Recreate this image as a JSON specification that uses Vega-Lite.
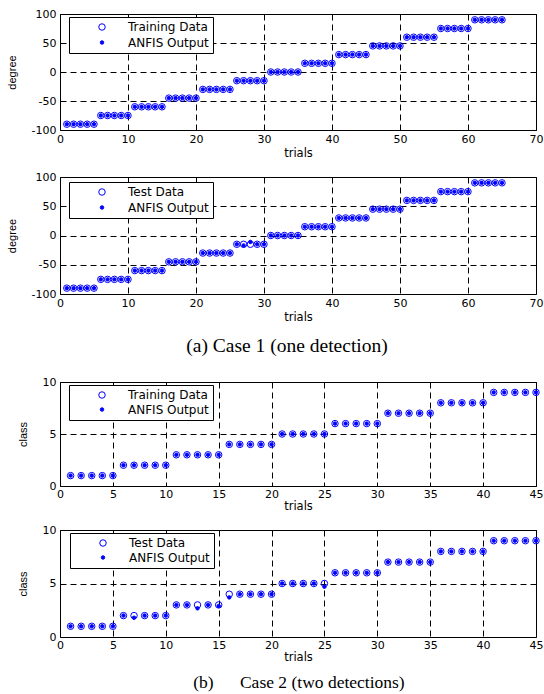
{
  "$schema": "https://vega.github.io/schema/vega-lite/v6.json",
  "background": "white",
  "padding": {"left": 5, "top": 7, "right": 0, "bottom": 4},
  "spacing": 11,
  "config": {
    "view": {"stroke": "black", "strokeWidth": 1},
    "axis": {"domain": false, "ticks": false, "grid": true, "gridColor": "black", "gridDash": [6, 4], "gridWidth": 1, "gridOpacity": 1, "labelFont": "DejaVu Sans", "labelFontSize": 11, "labelColor": "black", "titleColor": "black", "titleFontWeight": "normal"},
    "axisX": {"labelPadding": 3, "titlePadding": 3, "titleFont": "DejaVu Sans", "titleFontSize": 11.5, "labelFlush": false},
    "axisY": {"labelPadding": 4, "titlePadding": 14, "titleFont": "Liberation Sans", "titleFontSize": 11},
    "legend": {"orient": "none", "strokeColor": "black", "fillColor": "white", "padding": 4, "labelFont": "DejaVu Sans", "labelFontSize": 12, "labelColor": "black", "rowPadding": 3.5, "symbolStrokeWidth": 1, "labelLimit": 300, "titleOrient": "left", "titlePadding": 23, "titleFontSize": 12, "titleFont": "DejaVu Sans", "labelOffset": 20}
  },
  "resolve": {"scale": {"fill": "independent", "stroke": "independent", "size": "independent"}},
  "datasets": {
    "c1a": [
      {"t":1,"Training Data":-90,"ANFIS Output":-90},{"t":2,"Training Data":-90,"ANFIS Output":-90},{"t":3,"Training Data":-90,"ANFIS Output":-90},{"t":4,"Training Data":-90,"ANFIS Output":-90},{"t":5,"Training Data":-90,"ANFIS Output":-90},
      {"t":6,"Training Data":-75,"ANFIS Output":-75},{"t":7,"Training Data":-75,"ANFIS Output":-75},{"t":8,"Training Data":-75,"ANFIS Output":-75},{"t":9,"Training Data":-75,"ANFIS Output":-75},{"t":10,"Training Data":-75,"ANFIS Output":-75},
      {"t":11,"Training Data":-60,"ANFIS Output":-60},{"t":12,"Training Data":-60,"ANFIS Output":-60},{"t":13,"Training Data":-60,"ANFIS Output":-60},{"t":14,"Training Data":-60,"ANFIS Output":-60},{"t":15,"Training Data":-60,"ANFIS Output":-60},
      {"t":16,"Training Data":-45,"ANFIS Output":-45},{"t":17,"Training Data":-45,"ANFIS Output":-45},{"t":18,"Training Data":-45,"ANFIS Output":-45},{"t":19,"Training Data":-45,"ANFIS Output":-45},{"t":20,"Training Data":-45,"ANFIS Output":-45},
      {"t":21,"Training Data":-30,"ANFIS Output":-30},{"t":22,"Training Data":-30,"ANFIS Output":-30},{"t":23,"Training Data":-30,"ANFIS Output":-30},{"t":24,"Training Data":-30,"ANFIS Output":-30},{"t":25,"Training Data":-30,"ANFIS Output":-30},
      {"t":26,"Training Data":-15,"ANFIS Output":-15},{"t":27,"Training Data":-15,"ANFIS Output":-15},{"t":28,"Training Data":-15,"ANFIS Output":-15},{"t":29,"Training Data":-15,"ANFIS Output":-15},{"t":30,"Training Data":-15,"ANFIS Output":-15},
      {"t":31,"Training Data":0,"ANFIS Output":0},{"t":32,"Training Data":0,"ANFIS Output":0},{"t":33,"Training Data":0,"ANFIS Output":0},{"t":34,"Training Data":0,"ANFIS Output":0},{"t":35,"Training Data":0,"ANFIS Output":0},
      {"t":36,"Training Data":15,"ANFIS Output":15},{"t":37,"Training Data":15,"ANFIS Output":15},{"t":38,"Training Data":15,"ANFIS Output":15},{"t":39,"Training Data":15,"ANFIS Output":15},{"t":40,"Training Data":15,"ANFIS Output":15},
      {"t":41,"Training Data":30,"ANFIS Output":30},{"t":42,"Training Data":30,"ANFIS Output":30},{"t":43,"Training Data":30,"ANFIS Output":30},{"t":44,"Training Data":30,"ANFIS Output":30},{"t":45,"Training Data":30,"ANFIS Output":30},
      {"t":46,"Training Data":45,"ANFIS Output":45},{"t":47,"Training Data":45,"ANFIS Output":45},{"t":48,"Training Data":45,"ANFIS Output":45},{"t":49,"Training Data":45,"ANFIS Output":45},{"t":50,"Training Data":45,"ANFIS Output":45},
      {"t":51,"Training Data":60,"ANFIS Output":60},{"t":52,"Training Data":60,"ANFIS Output":60},{"t":53,"Training Data":60,"ANFIS Output":60},{"t":54,"Training Data":60,"ANFIS Output":60},{"t":55,"Training Data":60,"ANFIS Output":60},
      {"t":56,"Training Data":75,"ANFIS Output":75},{"t":57,"Training Data":75,"ANFIS Output":75},{"t":58,"Training Data":75,"ANFIS Output":75},{"t":59,"Training Data":75,"ANFIS Output":75},{"t":60,"Training Data":75,"ANFIS Output":75},
      {"t":61,"Training Data":90,"ANFIS Output":90},{"t":62,"Training Data":90,"ANFIS Output":90},{"t":63,"Training Data":90,"ANFIS Output":90},{"t":64,"Training Data":90,"ANFIS Output":90},{"t":65,"Training Data":90,"ANFIS Output":90}
    ],
    "c1b": [
      {"t":1,"Test Data":-90,"ANFIS Output":-90},{"t":2,"Test Data":-90,"ANFIS Output":-90},{"t":3,"Test Data":-90,"ANFIS Output":-90},{"t":4,"Test Data":-90,"ANFIS Output":-90},{"t":5,"Test Data":-90,"ANFIS Output":-90},
      {"t":6,"Test Data":-75,"ANFIS Output":-75},{"t":7,"Test Data":-75,"ANFIS Output":-75},{"t":8,"Test Data":-75,"ANFIS Output":-75},{"t":9,"Test Data":-75,"ANFIS Output":-75},{"t":10,"Test Data":-75,"ANFIS Output":-75},
      {"t":11,"Test Data":-60,"ANFIS Output":-60},{"t":12,"Test Data":-60,"ANFIS Output":-60},{"t":13,"Test Data":-60,"ANFIS Output":-60},{"t":14,"Test Data":-60,"ANFIS Output":-60},{"t":15,"Test Data":-60,"ANFIS Output":-60},
      {"t":16,"Test Data":-45,"ANFIS Output":-45},{"t":17,"Test Data":-45,"ANFIS Output":-45},{"t":18,"Test Data":-45,"ANFIS Output":-45},{"t":19,"Test Data":-45,"ANFIS Output":-45},{"t":20,"Test Data":-45,"ANFIS Output":-45},
      {"t":21,"Test Data":-30,"ANFIS Output":-30},{"t":22,"Test Data":-30,"ANFIS Output":-30},{"t":23,"Test Data":-30,"ANFIS Output":-30},{"t":24,"Test Data":-30,"ANFIS Output":-30},{"t":25,"Test Data":-30,"ANFIS Output":-30},
      {"t":26,"Test Data":-15,"ANFIS Output":-15},{"t":27,"Test Data":-15,"ANFIS Output":-17},{"t":28,"Test Data":-15,"ANFIS Output":-11},{"t":29,"Test Data":-15,"ANFIS Output":-15},{"t":30,"Test Data":-15,"ANFIS Output":-15},
      {"t":31,"Test Data":0,"ANFIS Output":0},{"t":32,"Test Data":0,"ANFIS Output":0},{"t":33,"Test Data":0,"ANFIS Output":0},{"t":34,"Test Data":0,"ANFIS Output":0},{"t":35,"Test Data":0,"ANFIS Output":0},
      {"t":36,"Test Data":15,"ANFIS Output":15},{"t":37,"Test Data":15,"ANFIS Output":15},{"t":38,"Test Data":15,"ANFIS Output":15},{"t":39,"Test Data":15,"ANFIS Output":15},{"t":40,"Test Data":15,"ANFIS Output":15},
      {"t":41,"Test Data":30,"ANFIS Output":30},{"t":42,"Test Data":30,"ANFIS Output":30},{"t":43,"Test Data":30,"ANFIS Output":30},{"t":44,"Test Data":30,"ANFIS Output":30},{"t":45,"Test Data":30,"ANFIS Output":30},
      {"t":46,"Test Data":45,"ANFIS Output":45},{"t":47,"Test Data":45,"ANFIS Output":45},{"t":48,"Test Data":45,"ANFIS Output":45},{"t":49,"Test Data":45,"ANFIS Output":45},{"t":50,"Test Data":45,"ANFIS Output":45},
      {"t":51,"Test Data":60,"ANFIS Output":60},{"t":52,"Test Data":60,"ANFIS Output":60},{"t":53,"Test Data":60,"ANFIS Output":60},{"t":54,"Test Data":60,"ANFIS Output":60},{"t":55,"Test Data":60,"ANFIS Output":60},
      {"t":56,"Test Data":75,"ANFIS Output":75},{"t":57,"Test Data":75,"ANFIS Output":75},{"t":58,"Test Data":75,"ANFIS Output":75},{"t":59,"Test Data":75,"ANFIS Output":75},{"t":60,"Test Data":75,"ANFIS Output":75},
      {"t":61,"Test Data":90,"ANFIS Output":90},{"t":62,"Test Data":90,"ANFIS Output":90},{"t":63,"Test Data":90,"ANFIS Output":90},{"t":64,"Test Data":90,"ANFIS Output":90},{"t":65,"Test Data":90,"ANFIS Output":90}
    ],
    "c2a": [
      {"t":1,"Training Data":1,"ANFIS Output":1},{"t":2,"Training Data":1,"ANFIS Output":1},{"t":3,"Training Data":1,"ANFIS Output":1},{"t":4,"Training Data":1,"ANFIS Output":1},{"t":5,"Training Data":1,"ANFIS Output":1},
      {"t":6,"Training Data":2,"ANFIS Output":2},{"t":7,"Training Data":2,"ANFIS Output":2},{"t":8,"Training Data":2,"ANFIS Output":2},{"t":9,"Training Data":2,"ANFIS Output":2},{"t":10,"Training Data":2,"ANFIS Output":2},
      {"t":11,"Training Data":3,"ANFIS Output":3},{"t":12,"Training Data":3,"ANFIS Output":3},{"t":13,"Training Data":3,"ANFIS Output":3},{"t":14,"Training Data":3,"ANFIS Output":3},{"t":15,"Training Data":3,"ANFIS Output":3},
      {"t":16,"Training Data":4,"ANFIS Output":4},{"t":17,"Training Data":4,"ANFIS Output":4},{"t":18,"Training Data":4,"ANFIS Output":4},{"t":19,"Training Data":4,"ANFIS Output":4},{"t":20,"Training Data":4,"ANFIS Output":4},
      {"t":21,"Training Data":5,"ANFIS Output":5},{"t":22,"Training Data":5,"ANFIS Output":5},{"t":23,"Training Data":5,"ANFIS Output":5},{"t":24,"Training Data":5,"ANFIS Output":5},{"t":25,"Training Data":5,"ANFIS Output":5},
      {"t":26,"Training Data":6,"ANFIS Output":6},{"t":27,"Training Data":6,"ANFIS Output":6},{"t":28,"Training Data":6,"ANFIS Output":6},{"t":29,"Training Data":6,"ANFIS Output":6},{"t":30,"Training Data":6,"ANFIS Output":6},
      {"t":31,"Training Data":7,"ANFIS Output":7},{"t":32,"Training Data":7,"ANFIS Output":7},{"t":33,"Training Data":7,"ANFIS Output":7},{"t":34,"Training Data":7,"ANFIS Output":7},{"t":35,"Training Data":7,"ANFIS Output":7},
      {"t":36,"Training Data":8,"ANFIS Output":8},{"t":37,"Training Data":8,"ANFIS Output":8},{"t":38,"Training Data":8,"ANFIS Output":8},{"t":39,"Training Data":8,"ANFIS Output":8},{"t":40,"Training Data":8,"ANFIS Output":8},
      {"t":41,"Training Data":9,"ANFIS Output":9},{"t":42,"Training Data":9,"ANFIS Output":9},{"t":43,"Training Data":9,"ANFIS Output":9},{"t":44,"Training Data":9,"ANFIS Output":9},{"t":45,"Training Data":9,"ANFIS Output":9}
    ],
    "c2b": [
      {"t":1,"Test Data":1,"ANFIS Output":1},{"t":2,"Test Data":1,"ANFIS Output":1},{"t":3,"Test Data":1,"ANFIS Output":1},{"t":4,"Test Data":1,"ANFIS Output":1},{"t":5,"Test Data":1,"ANFIS Output":1},
      {"t":6,"Test Data":2,"ANFIS Output":2},{"t":7,"Test Data":2,"ANFIS Output":1.8},{"t":8,"Test Data":2,"ANFIS Output":2},{"t":9,"Test Data":2,"ANFIS Output":2},{"t":10,"Test Data":2,"ANFIS Output":2},
      {"t":11,"Test Data":3,"ANFIS Output":3},{"t":12,"Test Data":3,"ANFIS Output":3},{"t":13,"Test Data":3,"ANFIS Output":2.68},{"t":14,"Test Data":3,"ANFIS Output":3},{"t":15,"Test Data":3,"ANFIS Output":2.9},
      {"t":16,"Test Data":4,"ANFIS Output":3.7},{"t":17,"Test Data":4,"ANFIS Output":4},{"t":18,"Test Data":4,"ANFIS Output":4},{"t":19,"Test Data":4,"ANFIS Output":4},{"t":20,"Test Data":4,"ANFIS Output":4},
      {"t":21,"Test Data":5,"ANFIS Output":5},{"t":22,"Test Data":5,"ANFIS Output":5},{"t":23,"Test Data":5,"ANFIS Output":5},{"t":24,"Test Data":5,"ANFIS Output":5},{"t":25,"Test Data":5,"ANFIS Output":4.7},
      {"t":26,"Test Data":6,"ANFIS Output":6},{"t":27,"Test Data":6,"ANFIS Output":6},{"t":28,"Test Data":6,"ANFIS Output":6},{"t":29,"Test Data":6,"ANFIS Output":6},{"t":30,"Test Data":6,"ANFIS Output":6},
      {"t":31,"Test Data":7,"ANFIS Output":7},{"t":32,"Test Data":7,"ANFIS Output":7},{"t":33,"Test Data":7,"ANFIS Output":7},{"t":34,"Test Data":7,"ANFIS Output":7},{"t":35,"Test Data":7,"ANFIS Output":7},
      {"t":36,"Test Data":8,"ANFIS Output":8},{"t":37,"Test Data":8,"ANFIS Output":8},{"t":38,"Test Data":8,"ANFIS Output":8},{"t":39,"Test Data":8,"ANFIS Output":8},{"t":40,"Test Data":8,"ANFIS Output":8},
      {"t":41,"Test Data":9,"ANFIS Output":9},{"t":42,"Test Data":9,"ANFIS Output":9},{"t":43,"Test Data":9,"ANFIS Output":9},{"t":44,"Test Data":9,"ANFIS Output":9},{"t":45,"Test Data":9,"ANFIS Output":9}
    ],
    "capA": [{"caption": "(a) Case 1 (one detection)"}],
    "capB": [{"caption": "(b)\u00a0\u00a0\u00a0\u00a0\u00a0\u00a0Case 2 (two detections)"}]
  },
  "vconcat": [
    {
      "width": 476, "height": 116,
      "data": {"name": "c1a"},
      "transform": [{"fold": ["Training Data", "ANFIS Output"]}],
      "mark": {"type": "point", "opacity": 1, "strokeWidth": 1},
      "encoding": {
        "x": {"field": "t", "type": "quantitative", "scale": {"domain": [0, 70], "nice": false}, "axis": {"values": [0, 10, 20, 30, 40, 50, 60, 70], "title": "trials"}},
        "y": {"field": "value", "type": "quantitative", "scale": {"domain": [-100, 100], "nice": false}, "axis": {"values": [-100, -50, 0, 50, 100], "title": "degree", "labelExpr": "'' + datum.value"}},
        "stroke": {"field": "key", "type": "nominal", "scale": {"domain": ["Training Data", "ANFIS Output"], "range": ["#0000ff", "#0000ff"]}, "legend": {"title": "\u00a0", "legendX": 9, "legendY": 3}},
        "fill": {"field": "key", "type": "nominal", "scale": {"domain": ["Training Data", "ANFIS Output"], "range": ["transparent", "#0000ff"]}, "legend": {"title": "\u00a0", "legendX": 9, "legendY": 3}},
        "size": {"field": "key", "type": "nominal", "scale": {"domain": ["Training Data", "ANFIS Output"], "range": [42, 12]}, "legend": {"title": "\u00a0", "legendX": 9, "legendY": 3}}
      }
    },
    {
      "width": 476, "height": 117,
      "data": {"name": "c1b"},
      "transform": [{"fold": ["Test Data", "ANFIS Output"]}],
      "mark": {"type": "point", "opacity": 1, "strokeWidth": 1},
      "encoding": {
        "x": {"field": "t", "type": "quantitative", "scale": {"domain": [0, 70], "nice": false}, "axis": {"values": [0, 10, 20, 30, 40, 50, 60, 70], "title": "trials"}},
        "y": {"field": "value", "type": "quantitative", "scale": {"domain": [-100, 100], "nice": false}, "axis": {"values": [-100, -50, 0, 50, 100], "title": "degree", "labelExpr": "'' + datum.value"}},
        "stroke": {"field": "key", "type": "nominal", "scale": {"domain": ["Test Data", "ANFIS Output"], "range": ["#0000ff", "#0000ff"]}, "legend": {"title": "\u00a0", "legendX": 9, "legendY": 5}},
        "fill": {"field": "key", "type": "nominal", "scale": {"domain": ["Test Data", "ANFIS Output"], "range": ["transparent", "#0000ff"]}, "legend": {"title": "\u00a0", "legendX": 9, "legendY": 5}},
        "size": {"field": "key", "type": "nominal", "scale": {"domain": ["Test Data", "ANFIS Output"], "range": [42, 12]}, "legend": {"title": "\u00a0", "legendX": 9, "legendY": 5}}
      }
    },
    {
      "width": 476, "height": 30,
      "view": {"stroke": null},
      "data": {"name": "capA"},
      "mark": {"type": "text", "font": "Liberation Serif", "fontSize": 19.5, "color": "black", "dx": -11, "dy": -3},
      "encoding": {"text": {"field": "caption"}}
    },
    {
      "width": 476, "height": 104,
      "data": {"name": "c2a"},
      "transform": [{"fold": ["Training Data", "ANFIS Output"]}],
      "mark": {"type": "point", "opacity": 1, "strokeWidth": 1},
      "encoding": {
        "x": {"field": "t", "type": "quantitative", "scale": {"domain": [0, 45], "nice": false}, "axis": {"values": [0, 5, 10, 15, 20, 25, 30, 35, 40, 45], "title": "trials", "labelPadding": 2, "titlePadding": 1}},
        "y": {"field": "value", "type": "quantitative", "scale": {"domain": [0, 10], "nice": false}, "axis": {"values": [0, 5, 10], "title": "class", "labelExpr": "'' + datum.value"}},
        "stroke": {"field": "key", "type": "nominal", "scale": {"domain": ["Training Data", "ANFIS Output"], "range": ["#0000ff", "#0000ff"]}, "legend": {"title": "\u00a0", "legendX": 9, "legendY": 3, "rowPadding": 2.5}},
        "fill": {"field": "key", "type": "nominal", "scale": {"domain": ["Training Data", "ANFIS Output"], "range": ["transparent", "#0000ff"]}, "legend": {"title": "\u00a0", "legendX": 9, "legendY": 3, "rowPadding": 2.5}},
        "size": {"field": "key", "type": "nominal", "scale": {"domain": ["Training Data", "ANFIS Output"], "range": [42, 12]}, "legend": {"title": "\u00a0", "legendX": 9, "legendY": 3, "rowPadding": 2.5}}
      }
    },
    {
      "width": 476, "height": 107,
      "data": {"name": "c2b"},
      "transform": [{"fold": ["Test Data", "ANFIS Output"]}],
      "mark": {"type": "point", "opacity": 1, "strokeWidth": 1},
      "encoding": {
        "x": {"field": "t", "type": "quantitative", "scale": {"domain": [0, 45], "nice": false}, "axis": {"values": [0, 5, 10, 15, 20, 25, 30, 35, 40, 45], "title": "trials", "labelPadding": 2, "titlePadding": 1}},
        "y": {"field": "value", "type": "quantitative", "scale": {"domain": [0, 10], "nice": false}, "axis": {"values": [0, 5, 10], "title": "class", "labelExpr": "'' + datum.value"}},
        "stroke": {"field": "key", "type": "nominal", "scale": {"domain": ["Test Data", "ANFIS Output"], "range": ["#0000ff", "#0000ff"]}, "legend": {"title": "\u00a0", "legendX": 10, "legendY": 3, "rowPadding": 2.5}},
        "fill": {"field": "key", "type": "nominal", "scale": {"domain": ["Test Data", "ANFIS Output"], "range": ["transparent", "#0000ff"]}, "legend": {"title": "\u00a0", "legendX": 10, "legendY": 3, "rowPadding": 2.5}},
        "size": {"field": "key", "type": "nominal", "scale": {"domain": ["Test Data", "ANFIS Output"], "range": [42, 12]}, "legend": {"title": "\u00a0", "legendX": 10, "legendY": 3, "rowPadding": 2.5}}
      }
    },
    {
      "width": 476, "height": 10,
      "view": {"stroke": null},
      "data": {"name": "capB"},
      "mark": {"type": "text", "font": "Liberation Serif", "fontSize": 17.5, "color": "black", "dy": -3, "dx": 1},
      "encoding": {"text": {"field": "caption"}}
    }
  ]
}
